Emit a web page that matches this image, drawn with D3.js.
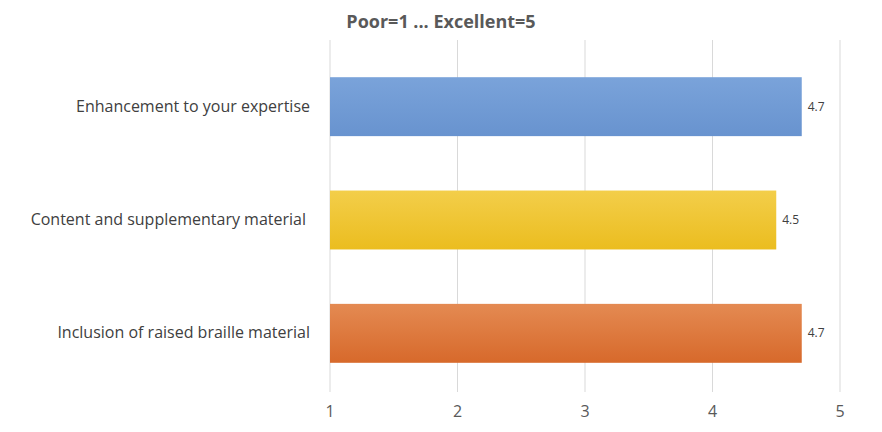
<!DOCTYPE html>
<html><head><meta charset="utf-8">
<script src="https://cdn.jsdelivr.net/npm/d3@7"></script>
<style>body{margin:0;background:#fff;font-family:"Open Sans",Lato,sans-serif;}</style>
</head><body>
<svg id="c" width="882" height="432"></svg>
<script>
const categories = ["Enhancement to your expertise", "Content and supplementary material", "Inclusion of raised braille material"];
const values = [4.7, 4.5, 4.7];
const colors = [["#7aa3da", "#6893cf"], ["#f3ce4a", "#ebbd1f"], ["#e48a52", "#d7692b"]];
const ticks = [1, 2, 3, 4, 5];

const svg = d3.select("#c");
const x = d3.scaleLinear().domain([1, 5]).range([330, 840]);
const y = d3.scaleBand().domain(categories).range([50, 390]).paddingInner(0.48).paddingOuter(0.24);

const defs = svg.append("defs");
colors.forEach((c, i) => {
    const g = defs.append("linearGradient").attr("id", "g" + i).attr("x1", 0).attr("y1", 0).attr("x2", 0).attr("y2", 1);
    g.append("stop").attr("offset", "0%").attr("stop-color", c[0]);
    g.append("stop").attr("offset", "100%").attr("stop-color", c[1]);
});

svg.append("g").selectAll("line").data(ticks).enter().append("line")
    .attr("x1", d => x(d)).attr("x2", d => x(d))
    .attr("y1", 40).attr("y2", 392)
    .attr("stroke", "#d9d9d9").attr("stroke-width", 1);

svg.append("g").selectAll("text").data(ticks).enter().append("text")
    .attr("x", d => x(d)).attr("y", 417)
    .attr("text-anchor", "middle").attr("font-size", 16).attr("fill", "#595959")
    .text(d => d);

svg.append("g").selectAll("rect").data(values).enter().append("rect")
    .attr("x", x(1)).attr("y", (d, i) => y(categories[i]))
    .attr("width", d => x(d) - x(1)).attr("height", y.bandwidth())
    .attr("fill", (d, i) => `url(#g${i})`);

svg.append("g").selectAll("text").data(values).enter().append("text")
    .attr("x", d => x(d) + 6).attr("y", (d, i) => y(categories[i]) + y.bandwidth() / 2 + 4)
    .attr("font-size", 12).attr("fill", "#404040")
    .text(d => d);

svg.append("g").selectAll("text").data(categories).enter().append("text")
    .attr("x", (d, i) => i === 1 ? 306 : 310).attr("y", d => y(d) + y.bandwidth() / 2 + 5)
    .attr("text-anchor", "end").attr("font-size", 16).attr("fill", "#404040")
    .text(d => d);

svg.append("text").attr("x", 441).attr("y", 28).attr("text-anchor", "middle")
    .attr("font-size", 18).attr("font-weight", "bold").attr("fill", "#595959")
    .text("Poor=1 ... Excellent=5");
</script>
</body></html>
